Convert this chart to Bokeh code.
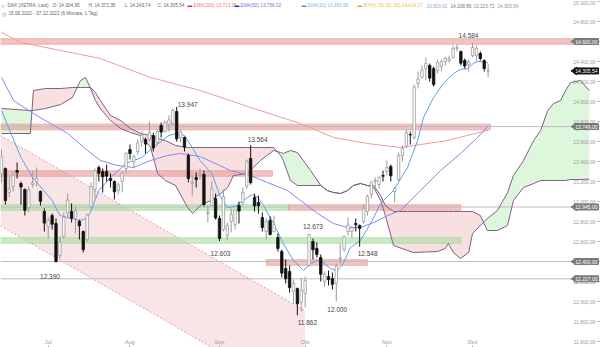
from math import pi
from bokeh.plotting import figure
from bokeh.models import ColumnDataSource, Range1d, FixedTicker, Label
from bokeh.core.properties import value
from bokeh.embed import file_html
from bokeh.resources import INLINE

FONT = "Liberation Sans"

# ---------------- data ----------------
month_ticks = [12, 33, 56, 78, 99, 121]
month_labels = ["Jul", "Aug", "Sep", "Okt", "Nov", "Dez"]
price_ticks = list(range(11600, 15001, 200))

opens = [13280, 13330, 13090, 13150, 13310, 13180, 13120, 12940, 13170, 13200, 13100, 12900,
         12750, 12860, 12780, 12460, 12650, 12890, 12900, 12830, 12800, 12700, 12620, 12950,
         13120, 13340, 13300, 13300, 13230, 13200, 13110, 13200, 13330, 13520, 13400, 13500,
         13600, 13620, 13620, 13660, 13590, 13760, 13700, 13770, 13780, 13900, 13640, 13640,
         13460, 13180, 13240, 13260, 13270, 12880, 12960, 13030, 12830, 12720, 12660, 12800,
         12770, 12960, 12990, 13150, 13430, 13040, 12990, 12840, 12700, 12810, 12700, 12640,
         12500, 12330, 12300, 12100, 12130, 11990, 12080, 12360, 12600, 12530, 12440, 12200,
         12250, 12230, 12180, 12430, 12520, 12700, 12700, 12780, 12760, 12800, 12900, 13070,
         13200, 13170, 13260, 13300, 13350, 13100, 13220, 13460, 13550, 13670, 13640, 14180,
         14240, 14330, 14360, 14330, 14310, 14350, 14400, 14410, 14440, 14530, 14500, 14410,
         14370, 14460, 14460, 14480, 14410, 14304.95]
highs = [13520, 13340, 13250, 13290, 13390, 13200, 13130, 13150, 13300, 13340, 13110, 12930,
         12840, 12880, 12830, 12650, 12890, 13080, 12980, 12950, 12820, 12710, 12880, 13190,
         13330, 13360, 13330, 13370, 13280, 13210, 13190, 13290, 13490, 13570, 13470, 13620,
         13700, 13640, 13800, 13690, 13720, 13790, 13810, 13860, 13930, 13947, 13720, 13650,
         13480, 13260, 13290, 13330, 13310, 12960, 13200, 13080, 12860, 13120, 12790, 12930,
         12920, 13000, 13140, 13420, 13564, 13080, 13060, 12890, 12830, 12850, 12860, 12680,
         12520, 12420, 12360, 12220, 12140, 12240, 12250, 12673, 12630, 12590, 12470, 12300,
         12310, 12290, 12380, 12580, 12660, 12840, 12760, 12830, 12770, 12970, 13070, 13200,
         13240, 13250, 13310, 13410, 13370, 13150, 13490, 13560, 13720, 13700, 14170, 14300,
         14360, 14440, 14380, 14350, 14420, 14420, 14450, 14460, 14560, 14570, 14510, 14430,
         14420, 14584, 14560, 14500, 14420, 14372.35]
lows = [13190, 12970, 13040, 13100, 13230, 12970, 12860, 12890, 13140, 13150, 12960, 12700,
        12630, 12720, 12390, 12430, 12630, 12830, 12790, 12680, 12620, 12490, 12600, 12930,
        13030, 13200, 13090, 13200, 13140, 13020, 13070, 13090, 13280, 13420, 13330, 13470,
        13550, 13480, 13600, 13500, 13560, 13640, 13690, 13700, 13760, 13600, 13590, 13500,
        13190, 13060, 13140, 13220, 12950, 12790, 12950, 12820, 12603, 12700, 12610, 12690,
        12720, 12780, 12960, 13130, 13170, 12900, 12880, 12700, 12620, 12660, 12690, 12500,
        12240, 12180, 12090, 11980, 11862, 11900, 11940, 12350, 12420, 12440, 12200, 12150,
        12160, 12120, 12000, 12380, 12500, 12660, 12640, 12700, 12548, 12780, 12860, 13030,
        13110, 13130, 13200, 13260, 13200, 12990, 13200, 13400, 13530, 13570, 13620, 14130,
        14230, 14210, 14200, 14150, 14280, 14300, 14360, 14390, 14430, 14500, 14360, 14330,
        14300, 14440, 14400, 14410, 14300, 14243.74]
closes = [13447, 13010, 13126, 13265, 13292, 13145, 12912, 13118, 13186, 13231, 13003, 12784,
          12813, 12773, 12401, 12595, 12843, 13015, 12832, 12905, 12756, 12519, 12865, 13148,
          13308, 13282, 13247, 13254, 13210, 13097, 13166, 13282, 13484, 13479, 13449, 13587,
          13662, 13574, 13687, 13535, 13700, 13694, 13795, 13816, 13910, 13627, 13697, 13544,
          13230, 13194, 13220, 13271, 12971, 12892, 13123, 12835, 12631, 13050, 12761, 12871,
          12916, 12904, 13088, 13402, 13189, 12956, 12957, 12741, 12803, 12671, 12767, 12531,
          12284, 12227, 12139, 12183, 11976, 12114, 12209, 12671, 12517, 12471, 12273, 12272,
          12219, 12172, 12355, 12438, 12649, 12765, 12741, 12767, 12731, 12931, 13052, 13195,
          13211, 13243, 13253, 13339, 13257, 13130, 13460, 13533, 13688, 13666, 14146, 14224,
          14313, 14379, 14234, 14170, 14390, 14400, 14430, 14428, 14530, 14541, 14383, 14355,
          14397, 14540, 14529, 14430, 14330, 14305.54]

ema10_idx = [0, 5, 8, 13, 15, 17, 20, 22, 23, 25, 28, 30, 32, 36, 39, 43, 45, 47, 49, 51, 54,
             56.3, 58, 60, 61.4, 63.2, 64.5, 65.8, 67.3, 69.9, 72.4, 75, 77.6, 79.4, 81.2, 82.7,
             84.5, 86.3, 87.8, 89.6, 92.2, 94.8, 97.4, 100.7, 104.3, 106.9, 108.4, 111, 113.5,
             116.1, 117.9, 119.7, 121.2, 122.3, 123.6, 125]
ema10_val = [13910, 13440, 13240, 13010, 12860, 12840, 12810, 12830, 12910, 13110, 13240, 13310,
             13380, 13440, 13540, 13660, 13680, 13660, 13540, 13410, 13280, 13040, 12940, 12950,
             12990, 13040, 13070, 13040, 12960, 12780, 12580, 12410, 12310, 12380, 12410, 12390,
             12330, 12310, 12380, 12540, 12610, 12780, 12980, 13110, 13340, 13610, 13840, 14040,
             14180, 14280, 14320, 14330, 14380, 14400, 14400, 14383.68]
ema50_idx = [0, 3.1, 8.2, 17, 22.1, 25.4, 29.8, 33.9, 38.3, 42.6, 46, 51.1, 58.8, 64, 68.3,
             73.5, 76.8, 81.2, 85.3, 88.9, 92.2, 95.6, 99.2, 102.5, 107.6, 112.8, 117.9, 122.3, 125]
ema50_val = [14240, 14010, 13880, 13680, 13510, 13410, 13360, 13340, 13410, 13460, 13480, 13450,
             13310, 13260, 13190, 13110, 13010, 12880, 12780, 12740, 12740, 12790, 12860, 12910,
             13110, 13310, 13480, 13640, 13756.02]
ema200_idx = [0, 5, 25.4, 38.3, 51.1, 64, 76.8, 85.3, 94, 102.5, 114.6, 125]
ema200_val = [14690, 14590, 14430, 14240, 14110, 13940, 13780, 13640, 13580, 13540, 13610, 13713.35]

# Ichimoku cloud (Senkou span A / B, already shifted 26 days ahead)
cloud_idx = [0, 7.4, 8.2, 11.3, 15.2, 18.2, 20.3, 21.6, 22.9, 24.1, 25.4, 28, 30.6, 33.1, 35.7,
             38.3, 40.1, 42.1, 44.7, 47.8, 49.1, 51.1, 53.7, 56.3, 58.1, 59.6, 63.2, 64.7, 66.5,
             69.9, 71.7, 72.4, 74.2, 76, 79.4, 82, 83.7, 85.3, 87.1, 88.9, 90.4, 92.2, 94, 95.6,
             97.4, 98.6, 100.7, 104.3, 105.8, 112, 114, 114.8, 116.1, 117.9, 120, 121, 123, 124.8,
             127.4, 130, 131.5, 134.1, 136.7, 138.5, 140.3, 141.8, 143.6, 144.9, 146.2, 148.7, 151]
span_a = [13930, 13910, 13910, 13930, 13970, 14040, 14210, 14240, 14130, 14010, 13930, 13810,
          13730, 13690, 13660, 13540, 13280, 13210, 13160, 12940, 12880, 12960, 13010, 13080,
          13140, 13260, 13280, 13340, 13410, 13510, 13490, 13480, 13510, 13490, 13310, 13160,
          13110, 13090, 13080, 13110, 13160, 13180, 13160, 13140, 13010, 12860, 12560, 12510,
          12490, 12500, 12530, 12580, 12490, 12430, 12490, 12680, 12760, 12830, 12910, 13090,
          13260, 13410, 13610, 13710, 13910, 13980, 14010, 14110, 14190, 14210, 14108.89]
span_b = [13680, 13680, 14110, 14130, 14130, 14140, 14140, 14140, 14140, 14090, 14010, 13860,
          13810, 13730, 13680, 13660, 13630, 13610, 13560, 13540, 13540, 13540, 13540, 13540,
          13540, 13540, 13540, 13540, 13540, 13540, 13460, 13410, 13210, 13160, 13160, 13160,
          13110, 13090, 13080, 13110, 13160, 13180, 13160, 13160, 13060, 12960, 12900, 12900,
          12900, 12900, 12900, 12900, 12900, 12900, 12900, 12900, 12860, 12710, 12710, 12760,
          13010, 13140, 13180, 13210, 13210, 13210, 13210, 13210, 13220, 13220, 13223.72]

# downward channel
channel_idx = [-0.26, 78]
channel_upper = [13660, 11907]
channel_lower = [12757, 11004]

# horizontal zones
zone_left = [-1, -1, -1, -1, 73.7, -1, 68]
zone_right = [153, 125.6, 69.6, 73.7, 118, 118, 94]
zone_level = [14600, 13745, 13280, 12940, 12940, 12610, 12390]
zone_kind = ["red", "red", "red", "green", "red", "green", "red"]

line_levels = [13749, 12945, 12400, 12227]
tag_levels = [14600, 13749, 12945, 12400, 12227]
last_close = 14305.54

ext_idx = [14, 45, 64, 56, 76, 79, 86, 92, 121]
ext_val = [12390, 13947, 13564, 12603, 11862, 12673, 12000, 12548, 14584]
ext_dx = [-6, 11, 7, 1, 10, 4, 1, 8, -4]
ext_dy = [14, -2, -6, 12, 7, -8, 8, 7, -8]

def de(v):
    s = f"{v:,.2f}"
    return s.replace(",", "#").replace(".", ",").replace("#", ".")

# ---------------- figure ----------------
X0, X1 = -0.26, 153.87
p = figure(width=600, height=347, x_range=Range1d(X0, X1), y_range=Range1d(11540, 15010),
           output_backend="svg", toolbar_location=None, min_border=0,
           x_axis_location="above")
p.outline_line_color = None
p.grid.visible = False
p.background_fill_color = "white"
p.border_fill_color = "white"

# channel
p.varea(x=channel_idx, y1=channel_lower, y2=channel_upper, fill_color="#f3cccc", fill_alpha=0.5)
p.line(x=channel_idx, y=channel_upper, line_color="#e49a9a", line_dash="2 2", line_width=1)
p.line(x=channel_idx, y=channel_lower, line_color="#e49a9a", line_dash="2 2", line_width=1)

# cloud with crossing points inserted
def split_cloud(xs, a, b):
    X, A, B = [xs[0]], [a[0]], [b[0]]
    for k in range(1, len(xs)):
        d0 = a[k - 1] - b[k - 1]
        d1 = a[k] - b[k]
        if d0 * d1 < 0:
            t = d0 / (d0 - d1)
            xc = xs[k - 1] + t * (xs[k] - xs[k - 1])
            yc = a[k - 1] + t * (a[k] - a[k - 1])
            X.append(xc); A.append(yc); B.append(yc)
        X.append(xs[k]); A.append(a[k]); B.append(b[k])
    return X, A, B

cx, ca, cb = split_cloud(cloud_idx, span_a, span_b)
cmax = [max(u, w) for u, w in zip(ca, cb)]
p.varea(x=cx, y1=cb, y2=cmax, fill_color="#d3f3cf", fill_alpha=0.75)
p.varea(x=cx, y1=ca, y2=cmax, fill_color="#f5cfcf", fill_alpha=0.65)

# zones
zsrc = ColumnDataSource(dict(
    left=zone_left, right=zone_right,
    bottom=[v - 28 for v in zone_level], top=[v + 28 for v in zone_level],
    fill=["#eb9a9a" if k == "red" else "#a9dea2" for k in zone_kind],
    line=["#e48c8c" if k == "red" else "#9bd494" for k in zone_kind]))
p.quad(left="left", right="right", bottom="bottom", top="top", fill_color="fill",
       fill_alpha=0.6, line_color="line", line_alpha=0.7, line_width=0.8, source=zsrc)

for lv in line_levels:
    p.line(x=[X0, X1], y=[lv, lv], line_color="#bdbdbd", line_width=1)

# cloud lines
p.line(x=cloud_idx, y=span_a, line_color="#7e5f86", line_width=1)
p.line(x=cloud_idx, y=span_b, line_color="#7e5f86", line_width=1)

# EMAs
p.line(x=ema200_idx, y=ema200_val, line_color="#f29a9a", line_width=1)
p.line(x=ema50_idx, y=ema50_val, line_color="#8c86ec", line_width=1)
p.line(x=ema10_idx, y=ema10_val, line_color="#5aa0ee", line_width=1)

# candles
n = len(closes)
idx = list(range(n))
isup = [c >= o for o, c in zip(opens, closes)]
csrc = ColumnDataSource(dict(
    x=idx, h=highs, l=lows,
    top=[max(o, c) for o, c in zip(opens, closes)],
    bottom=[min(o, c) for o, c in zip(opens, closes)],
    fill=["#ffffff" if u else "#111111" for u in isup],
    line=["#9a9a9a" if u else "#111111" for u in isup]))
p.segment(x0="x", y0="h", x1="x", y1="l", line_color="line", line_width=1, source=csrc)
p.vbar(x="x", width=0.62, top="top", bottom="bottom", fill_color="fill",
       line_color="line", line_width=0.8, source=csrc)

# extreme labels
esrc = ColumnDataSource(dict(x=ext_idx, y=ext_val, t=[f"{v:,}".replace(",", ".") for v in ext_val],
                             dx=ext_dx, dy=ext_dy))
p.text(x="x", y="y", text="t", x_offset="dx", y_offset="dy", text_font=value(FONT),
       text_font_size="6.5px", text_color="#444444", text_align="center",
       text_baseline="middle", source=esrc)

# axes drawn inside the frame
ya = p.yaxis[0]
ya.fixed_location = X1
ya.ticker = FixedTicker(ticks=price_ticks)
ya.major_label_overrides = {t: de(t) for t in price_ticks}
ya.axis_line_color = None
ya.major_tick_out = 3
ya.major_tick_in = 0
ya.minor_tick_out = 0
ya.minor_tick_in = 0
ya.major_tick_line_color = "#aaaaaa"
ya.major_label_standoff = 2
ya.major_label_text_font = FONT
ya.major_label_text_font_size = "5px"
ya.major_label_text_color = "#9a9a9a"

xa = p.xaxis[0]
xa.fixed_location = 11540
xa.ticker = FixedTicker(ticks=month_ticks)
xa.major_label_overrides = {t: l for t, l in zip(month_ticks, month_labels)}
xa.axis_line_color = None
xa.major_tick_out = 2
xa.major_tick_in = 0
xa.minor_tick_out = 0
xa.minor_tick_in = 0
xa.major_tick_line_color = "#aaaaaa"
xa.major_label_standoff = 1
xa.major_label_text_font = FONT
xa.major_label_text_font_size = "5.5px"
xa.major_label_text_color = "#9a9a9a"

# tags at right (with left-pointing arrow heads)
tag_all = tag_levels + [last_close]
tag_bg = ["#7a7a7a"] * len(tag_levels) + ["#111111"]
p.scatter(x=[X1 - 6.55] * len(tag_all), y=tag_all, marker="triangle", angle=pi / 2,
          size=7, fill_color=tag_bg, line_color=tag_bg)
for lv, bg in zip(tag_all, tag_bg):
    p.add_layout(Label(x=X1, y=lv, x_offset=-2, text=de(lv), text_align="right",
                       text_baseline="middle", text_font=FONT, text_font_size="5px",
                       text_color="#ffffff", background_fill_color=bg,
                       border_line_color=bg, padding=1))

# header
hdr1 = [
    (7, "DAX (XETRA, Last)", "#666666"),
    (52, "O: 14.304,95", "#666666"),
    (88, "H: 14.372,35", "#666666"),
    (124, "L: 14.243,74", "#666666"),
    (157, "C: 14.305,54", "#666666"),
    (187, "\u25ac", "#e02020"),
    (193, "EMA(200) 13.713,35", "#f07a7a"),
    (234, "\u25ac", "#2020c0"),
    (240, "EMA(50) 13.756,02", "#7b74e6"),
    (301, "\u25ac", "#3a86e0"),
    (307, "EMA(10) 14.383,68", "#86b6f0"),
    (357, "\u25ac", "#f0a010"),
    (363, "IKH(9, 26, 52, 26)  14.414,17", "#f0b84a"),
    (426, "13.803,62", "#90a8cc"),
    (450, "14.108,89", "#707080"),
    (473, "13.223,72", "#9a7a9a"),
    (497, "14.305,54", "#8a9a7a"),
]
for x, t, c in hdr1:
    p.add_layout(Label(x=x, y=342, x_units="screen", y_units="screen", text=t,
                       text_font=FONT, text_font_size="4.7px", text_color=c,
                       text_baseline="middle"))
p.add_layout(Label(x=1, y=342, x_units="screen", y_units="screen", text="\u2248",
                   text_font=FONT, text_font_size="5px", text_color="#777777",
                   text_baseline="middle"))
p.add_layout(Label(x=1, y=334, x_units="screen", y_units="screen", text="\u25f7",
                   text_font=FONT, text_font_size="5px", text_color="#777777",
                   text_baseline="middle"))
p.add_layout(Label(x=8, y=334, x_units="screen", y_units="screen",
                   text="15.06.2022 - 07.12.2022   (6 Monate, 1 Tag)",
                   text_font=FONT, text_font_size="4.7px", text_color="#666666",
                   text_baseline="middle"))

open("out.html", "w").write(file_html(p, INLINE))
